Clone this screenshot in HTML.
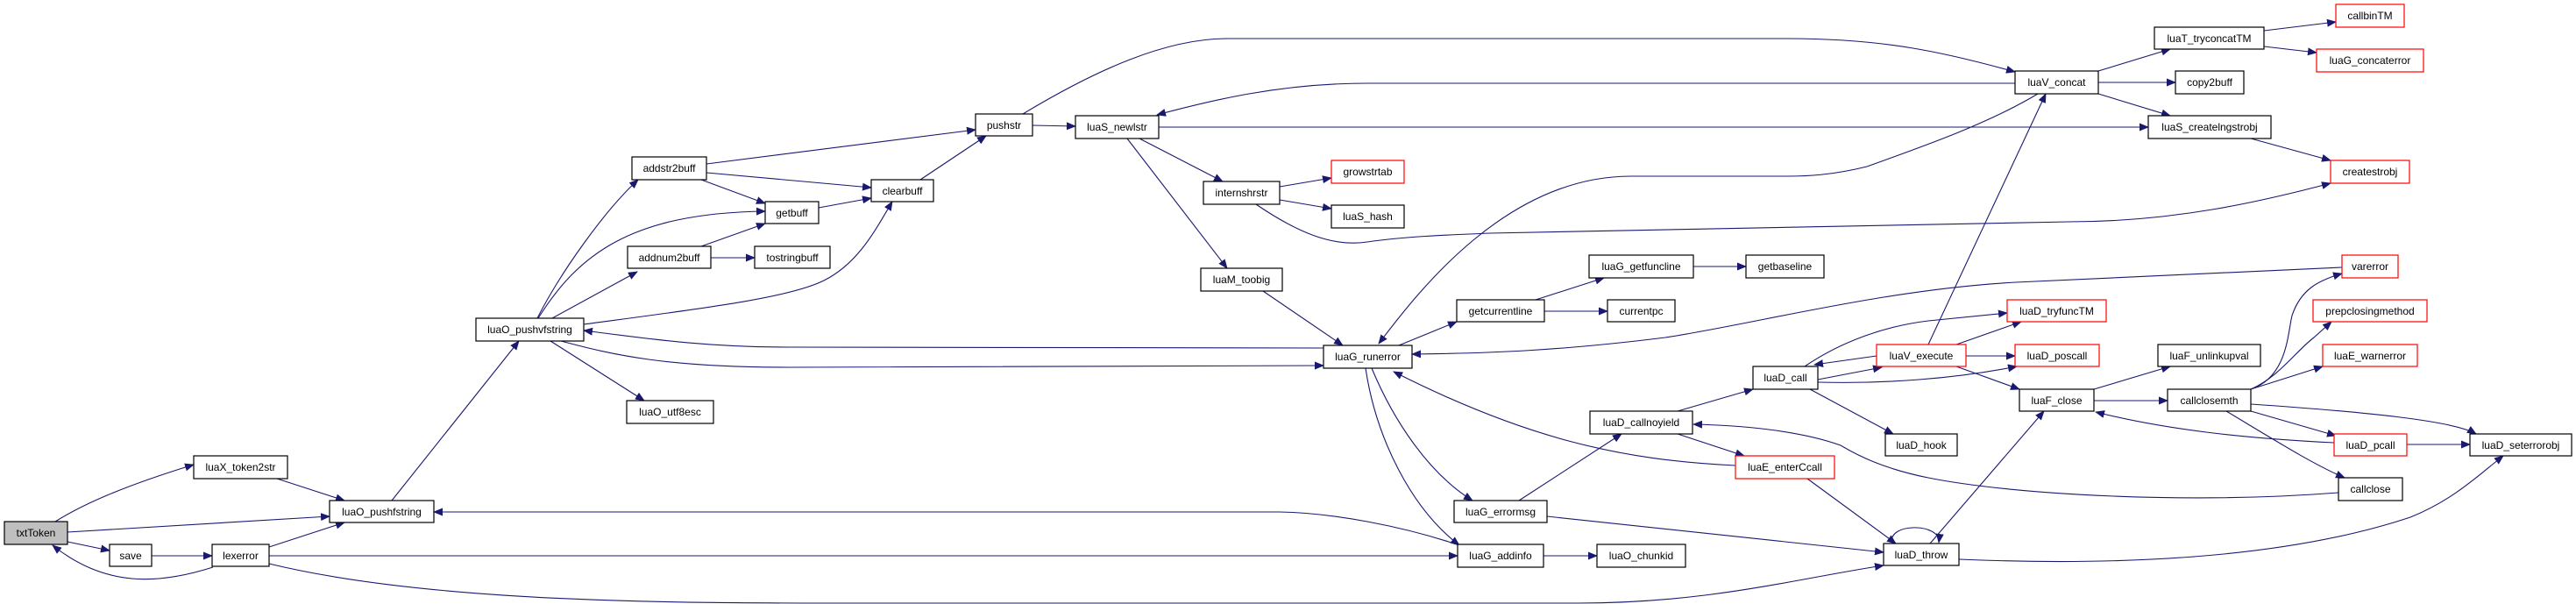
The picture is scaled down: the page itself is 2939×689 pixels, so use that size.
<!DOCTYPE html>
<html><head><meta charset="utf-8"><style>
html,body{margin:0;padding:0;background:#fff;}
svg{display:block;}
text{font-family:"Liberation Sans",sans-serif;font-size:12px;fill:#000;}
.e{fill:none;stroke:#191970;stroke-width:1.1;marker-end:url(#a);}
.n{fill:#fff;stroke:#000;stroke-width:1.2;}
.r{fill:#fff;stroke:#ff0000;stroke-width:1.2;}
.g{fill:#bfbfbf;stroke:#000;stroke-width:1.2;}
</style></head><body>
<svg width="2939" height="689" viewBox="0 0 2939 689" xmlns="http://www.w3.org/2000/svg">
<defs><marker id="a" markerUnits="userSpaceOnUse" markerWidth="11" markerHeight="9" refX="10" refY="4.5" orient="auto"><path d="M0,0 L11,4.5 L0,9 z" fill="#191970"/></marker></defs>
<g>
<path class="e" d="M63,595 C95,575 140,555 221,530"/>
<path class="e" d="M77,607 L376,589"/>
<path class="e" d="M77,618 L125,628"/>
<path class="e" d="M173,634 L242,634"/>
<path class="e" d="M243,647 C180,667 120,670 60,622"/>
<path class="e" d="M316,546 L393,571"/>
<path class="e" d="M307,624 L393,596"/>
<path class="e" d="M307,634 L1663,634"/>
<path class="e" d="M307,643 C500,690 800,688 1000,688 L1800,688 C1950,688 2050,660 2149,645"/>
<path class="e" d="M447,571 L592,389"/>
<path class="e" d="M1665,622 C1600,600 1520,585 1460,584 L495,584"/>
<path class="e" d="M613,363 C640,310 690,240 728,205"/>
<path class="e" d="M614,363 C660,290 720,243 873,241"/>
<path class="e" d="M630,363 L727,310"/>
<path class="e" d="M666,370 C800,352 900,340 940,320 C980,300 1000,260 1018,230"/>
<path class="e" d="M1510,397 L900,396 C800,396 730,385 666,377"/>
<path class="e" d="M640,389 C700,405 760,419 900,419 L1510,417"/>
<path class="e" d="M628,389 L735,457"/>
<path class="e" d="M806,187 L1113,148"/>
<path class="e" d="M806,197 L994,214"/>
<path class="e" d="M800,205 L873,232"/>
<path class="e" d="M934,237 L994,226"/>
<path class="e" d="M800,281 L873,255"/>
<path class="e" d="M811,294 L861,294"/>
<path class="e" d="M1050,205 L1125,155"/>
<path class="e" d="M1178,143 L1227,144"/>
<path class="e" d="M1167,130 C1250,80 1330,44 1400,44 L2040,44 C2150,44 2220,60 2299,82"/>
<path class="e" d="M2299,95 L1560,95 C1460,95 1380,115 1320,131"/>
<path class="e" d="M2325,107 C2270,140 2200,165 2130,190 C2090,200 2060,201 2040,201 L1861,201 C1720,201 1620,330 1573,392"/>
<path class="e" d="M1322,145 L2451,145"/>
<path class="e" d="M1300,158 L1395,207"/>
<path class="e" d="M1286,158 L1400,306"/>
<path class="e" d="M1460,213 L1519,203"/>
<path class="e" d="M1460,228 L1519,238"/>
<path class="e" d="M1433,233 C1480,265 1520,282 1560,276 C1600,270 1650,268 1700,266 L2360,253 C2480,253 2580,230 2659,209"/>
<path class="e" d="M2568,158 L2659,183"/>
<path class="e" d="M1441,332 L1532,394"/>
<path class="e" d="M1596,394 L1662,367"/>
<path class="e" d="M1752,342 L1830,317"/>
<path class="e" d="M1762,355 L1834,355"/>
<path class="e" d="M1932,304 L1992,304"/>
<path class="e" d="M2672,305 L2300,322 C2150,330 2000,370 1900,385 C1780,400 1700,403 1611,404"/>
<path class="e" d="M1565,420 C1590,480 1630,540 1680,571"/>
<path class="e" d="M1558,420 C1570,500 1610,580 1665,622"/>
<path class="e" d="M1980,531 C1850,525 1740,500 1590,424"/>
<path class="e" d="M1733,571 L1850,495"/>
<path class="e" d="M1765,589 L2149,630"/>
<path class="e" d="M1761,634 L1822,634"/>
<path class="e" d="M1914,469 L2000,444"/>
<path class="e" d="M1914,495 L1990,520"/>
<path class="e" d="M2668,562 C2500,575 2300,565 2200,545 C2150,535 2120,520 2100,508 C2050,490 1980,485 1932,484"/>
<path class="e" d="M2062,546 L2163,620"/>
<path class="e" d="M2159,620 C2152,596 2215,596 2212,619"/>
<path class="e" d="M2202,620 L2332,469"/>
<path class="e" d="M2235,638 C2400,645 2600,640 2750,590 C2800,570 2830,540 2856,520"/>
<path class="e" d="M2074,433 L2147,419"/>
<path class="e" d="M2141,406 L2070,416"/>
<path class="e" d="M2059,418 C2100,390 2150,372 2200,366 L2290,357"/>
<path class="e" d="M2074,436 C2150,438 2230,432 2301,418"/>
<path class="e" d="M2065,444 L2160,495"/>
<path class="e" d="M2200,393 L2334,107"/>
<path class="e" d="M2232,393 L2306,367"/>
<path class="e" d="M2243,406 L2299,406"/>
<path class="e" d="M2232,418 L2304,444"/>
<path class="e" d="M2389,444 L2476,418"/>
<path class="e" d="M2389,457 L2473,457"/>
<path class="e" d="M2663,505 C2560,500 2470,490 2391,470"/>
<path class="e" d="M2568,444 C2610,430 2610,380 2615,360 C2625,330 2645,320 2672,312"/>
<path class="e" d="M2568,444 C2600,430 2620,400 2640,385 L2660,367"/>
<path class="e" d="M2568,444 L2650,418"/>
<path class="e" d="M2568,461 C2700,470 2800,480 2825,495"/>
<path class="e" d="M2568,469 L2665,497"/>
<path class="e" d="M2540,469 C2600,505 2640,530 2675,545"/>
<path class="e" d="M2746,507 L2818,507"/>
<path class="e" d="M2394,81 L2476,56"/>
<path class="e" d="M2394,94 L2482,94"/>
<path class="e" d="M2394,107 L2476,132"/>
<path class="e" d="M2583,35 L2665,25"/>
<path class="e" d="M2583,53 L2643,60"/>
</g>
<g text-anchor="middle" lengthAdjust="spacingAndGlyphs">
<rect class="g" x="5" y="595" width="72" height="26"/><text x="41" y="612">txtToken</text>
<rect class="n" x="221" y="520" width="107" height="26"/><text x="274.5" y="537">luaX_token2str</text>
<rect class="n" x="376" y="571" width="119" height="25"/><text x="435.5" y="588">luaO_pushfstring</text>
<rect class="n" x="125" y="621" width="48" height="25"/><text x="149" y="638">save</text>
<rect class="n" x="242" y="621" width="65" height="25"/><text x="274.5" y="638">lexerror</text>
<rect class="n" x="543" y="363" width="123" height="26"/><text x="604.5" y="380">luaO_pushvfstring</text>
<rect class="n" x="721" y="179" width="85" height="26"/><text x="763.5" y="196">addstr2buff</text>
<rect class="n" x="716" y="281" width="95" height="25"/><text x="763.5" y="298">addnum2buff</text>
<rect class="n" x="715" y="457" width="99" height="26"/><text x="764.5" y="474">luaO_utf8esc</text>
<rect class="n" x="873" y="230" width="61" height="25"/><text x="903.5" y="247">getbuff</text>
<rect class="n" x="861" y="281" width="86" height="25"/><text x="904" y="298">tostringbuff</text>
<rect class="n" x="994" y="205" width="71" height="25"/><text x="1029.5" y="222">clearbuff</text>
<rect class="n" x="1113" y="130" width="65" height="25"/><text x="1145.5" y="147">pushstr</text>
<rect class="n" x="1227" y="132" width="95" height="26"/><text x="1274.5" y="149">luaS_newlstr</text>
<rect class="n" x="1373" y="207" width="87" height="26"/><text x="1416.5" y="224">internshrstr</text>
<rect class="n" x="1370" y="306" width="93" height="26"/><text x="1416.5" y="323">luaM_toobig</text>
<rect class="r" x="1519" y="183" width="83" height="26"/><text x="1560.5" y="200">growstrtab</text>
<rect class="n" x="1519" y="234" width="83" height="26"/><text x="1560.5" y="251">luaS_hash</text>
<rect class="n" x="1813" y="291" width="119" height="26"/><text x="1872.5" y="308">luaG_getfuncline</text>
<rect class="n" x="1992" y="291" width="89" height="26"/><text x="2036.5" y="308">getbaseline</text>
<rect class="n" x="1662" y="342" width="100" height="25"/><text x="1712" y="359">getcurrentline</text>
<rect class="n" x="1834" y="342" width="77" height="25"/><text x="1872.5" y="359">currentpc</text>
<rect class="n" x="1510" y="394" width="101" height="26"/><text x="1560.5" y="411">luaG_runerror</text>
<rect class="n" x="2000" y="418" width="74" height="26"/><text x="2037" y="435">luaD_call</text>
<rect class="n" x="1814" y="469" width="117" height="26"/><text x="1872.5" y="486">luaD_callnoyield</text>
<rect class="r" x="1980" y="520" width="113" height="26"/><text x="2036.5" y="537">luaE_enterCcall</text>
<rect class="n" x="1659" y="571" width="106" height="25"/><text x="1712" y="588">luaG_errormsg</text>
<rect class="n" x="1663" y="621" width="98" height="26"/><text x="1712" y="638">luaG_addinfo</text>
<rect class="n" x="1822" y="621" width="101" height="26"/><text x="1872.5" y="638">luaO_chunkid</text>
<rect class="n" x="2151" y="495" width="82" height="25"/><text x="2192" y="512">luaD_hook</text>
<rect class="n" x="2149" y="620" width="86" height="25"/><text x="2192" y="637">luaD_throw</text>
<rect class="r" x="2141" y="393" width="102" height="25"/><text x="2192" y="410">luaV_execute</text>
<rect class="n" x="2299" y="81" width="95" height="26"/><text x="2346.5" y="98">luaV_concat</text>
<rect class="n" x="2458" y="31" width="125" height="25"/><text x="2520.5" y="48">luaT_tryconcatTM</text>
<rect class="r" x="2665" y="5" width="78" height="26"/><text x="2704" y="22">callbinTM</text>
<rect class="r" x="2643" y="56" width="122" height="26"/><text x="2704" y="73">luaG_concaterror</text>
<rect class="n" x="2482" y="81" width="78" height="26"/><text x="2521" y="98">copy2buff</text>
<rect class="n" x="2451" y="132" width="140" height="26"/><text x="2521" y="149">luaS_createlngstrobj</text>
<rect class="r" x="2659" y="183" width="90" height="26"/><text x="2704" y="200">createstrobj</text>
<rect class="r" x="2672" y="291" width="64" height="26"/><text x="2704" y="308">varerror</text>
<rect class="r" x="2290" y="342" width="113" height="25"/><text x="2346.5" y="359">luaD_tryfuncTM</text>
<rect class="r" x="2639" y="342" width="130" height="25"/><text x="2704" y="359">prepclosingmethod</text>
<rect class="r" x="2299" y="393" width="96" height="25"/><text x="2347" y="410">luaD_poscall</text>
<rect class="n" x="2462" y="393" width="117" height="25"/><text x="2520.5" y="410">luaF_unlinkupval</text>
<rect class="r" x="2650" y="393" width="108" height="25"/><text x="2704" y="410">luaE_warnerror</text>
<rect class="n" x="2304" y="444" width="85" height="25"/><text x="2346.5" y="461">luaF_close</text>
<rect class="n" x="2473" y="444" width="95" height="25"/><text x="2520.5" y="461">callclosemth</text>
<rect class="r" x="2663" y="495" width="83" height="25"/><text x="2704.5" y="512">luaD_pcall</text>
<rect class="n" x="2818" y="495" width="116" height="25"/><text x="2876" y="512">luaD_seterrorobj</text>
<rect class="n" x="2668" y="545" width="73" height="26"/><text x="2704.5" y="562">callclose</text>
</g>
</svg>
</body></html>
